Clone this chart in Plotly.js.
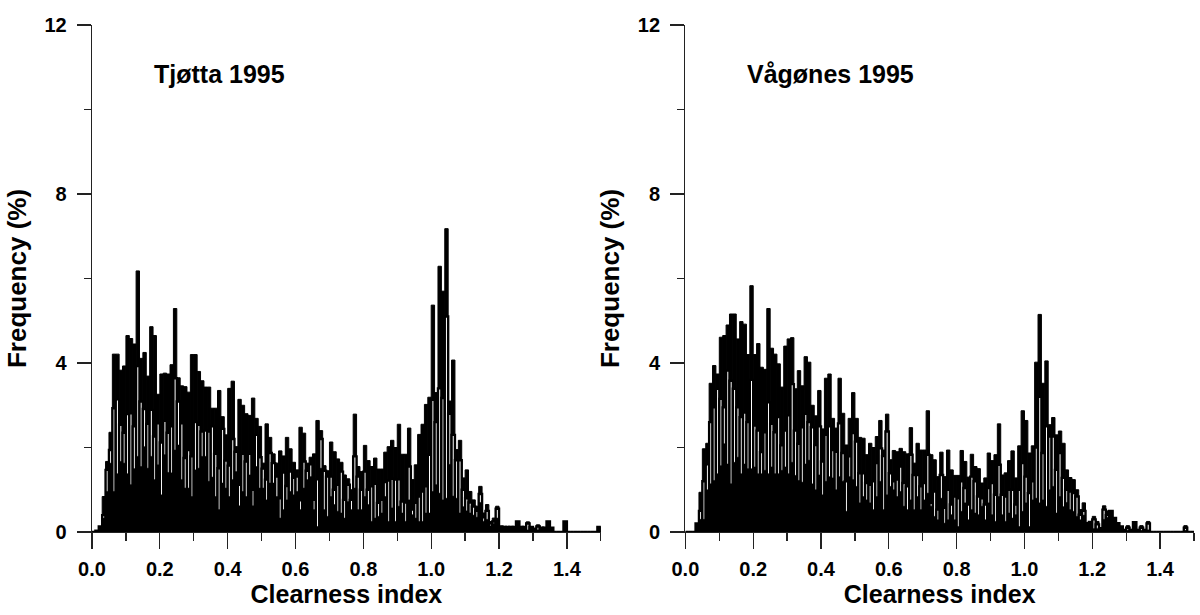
<!DOCTYPE html>
<html>
<head>
<meta charset="utf-8">
<script src="https://cdn.plot.ly/plotly-3.0.1.min.js"></script>
<style>
  html, body { margin: 0; padding: 0; background: #fff; }
  #chart { width: 1200px; height: 615px; }
</style>
</head>
<body>
<div id="chart"></div>
<script>
// Histogram of clearness index, bins of 0.01 from 0.00 to 1.50 (150 bins).
// "Total" = bar height, "Mid" = top of the white interior slit, "Low" = solid black base.
const binStart = 0.005;
const binWidth = 0.01;

const tjottaTotal = [
  0, 0.03, 0.13, 0.84, 1.67, 2.36, 4.21, 4.21, 3.83, 3.93,
  4.65, 4.58, 4.45, 6.18, 4.11, 4.25, 3.69, 4.86, 4.65, 3.26,
  3.74, 3.76, 3.74, 3.96, 5.29, 3.65, 3.46, 3.44, 3.31, 4.20,
  4.20, 3.80, 3.58, 3.43, 3.43, 2.93, 2.93, 3.35, 2.73, 2.30,
  3.40, 3.57, 2.02, 3.14, 3.00, 2.80, 2.76, 3.17, 2.69, 2.50,
  1.63, 2.56, 2.24, 1.85, 1.63, 1.92, 1.80, 2.24, 1.97, 1.65,
  1.47, 2.48, 2.34, 1.63, 1.77, 1.85, 2.64, 2.40, 1.57, 1.45,
  2.13, 1.90, 1.73, 1.65, 1.35, 1.26, 1.00, 2.79, 1.55, 1.43,
  2.05, 1.69, 1.55, 1.75, 1.49, 1.49, 1.89, 2.02, 2.17, 2.00,
  2.55, 1.84, 1.84, 2.46, 1.24, 1.59, 2.31, 2.55, 3.02, 3.19,
  5.37, 3.30, 6.29, 5.70, 7.18, 3.10, 4.07, 1.95, 2.17, 1.28,
  1.47, 0.96, 0.76, 0.61, 1.08, 0.45, 0.65, 0.25, 0.33, 0.61,
  0.13, 0.12, 0.12, 0.12, 0.12, 0.25, 0.12, 0.12, 0.24, 0.12,
  0.08, 0.17, 0.10, 0.10, 0.25, 0.10, 0, 0, 0, 0.25,
  0, 0, 0, 0, 0, 0, 0, 0, 0, 0.12
];
const tjottaMid = [
  0, 0.03, 0.13, 0.40, 1.47, 1.94, 2.93, 3.14, 2.54, 2.35,
  2.79, 2.81, 2.50, 3.93, 3.09, 2.91, 2.56, 2.89, 2.26, 2.57,
  2.12, 2.63, 2.35, 2.50, 3.64, 3.09, 2.57, 1.75, 1.94, 1.79,
  2.60, 2.54, 2.38, 2.40, 2.38, 2.50, 1.85, 1.51, 2.44, 1.69,
  1.57, 2.20, 1.90, 1.12, 1.85, 1.67, 1.85, 1.00, 2.30, 1.77,
  1.50, 1.24, 1.87, 1.63, 1.31, 0.80, 1.41, 1.09, 1.43, 1.28,
  1.31, 0.75, 1.67, 1.45, 1.60, 0.76, 1.25, 2.20, 1.45, 1.31,
  1.31, 1.00, 1.12, 1.43, 0.76, 1.12, 0.76, 1.79, 1.31, 1.00,
  1.43, 1.00, 1.08, 1.14, 0.69, 0.76, 1.18, 1.22, 1.26, 1.24,
  1.25, 0.72, 0.70, 1.55, 0.53, 0.69, 0.84, 0.96, 1.08, 1.83,
  3.13, 2.60, 3.40, 3.17, 5.10, 2.80, 2.30, 1.70, 1.70, 1.00,
  0.80, 0.70, 0.60, 0.50, 0.90, 0.35, 0.50, 0.20, 0.25, 0.55,
  0.13, 0.12, 0.12, 0.12, 0.12, 0.25, 0.12, 0.12, 0.20, 0.12,
  0.08, 0.13, 0.10, 0.10, 0.25, 0.10, 0, 0, 0, 0.25,
  0, 0, 0, 0, 0, 0, 0, 0, 0, 0.12
];
const tjottaLow = [
  0, 0.03, 0.13, 0.33, 0.96, 1.63, 0.96, 1.38, 1.67, 1.63,
  1.38, 1.12, 1.50, 1.79, 1.55, 2.02, 1.51, 1.79, 1.24, 1.59,
  0.88, 1.83, 1.41, 1.40, 1.94, 2.06, 1.24, 1.04, 1.04, 0.84,
  1.47, 1.51, 1.79, 1.79, 1.20, 1.30, 0.84, 0.53, 1.16, 1.04,
  0.84, 1.24, 1.43, 0.62, 0.96, 0.84, 1.35, 0.62, 1.55, 1.04,
  1.04, 0.76, 1.16, 1.16, 0.84, 0.33, 0.53, 0.76, 0.96, 0.88,
  0.96, 0.53, 1.04, 1.24, 1.31, 0.53, 0.13, 1.51, 0.53, 0.37,
  0.84, 0.65, 0.49, 0.45, 0.33, 0.72, 0.53, 1.04, 0.53, 0.53,
  0.84, 0.65, 0.25, 0.33, 0.37, 0.45, 0.84, 0.25, 0.57, 0.25,
  0.61, 0.45, 0.25, 0.76, 0.41, 0.33, 0.25, 0.25, 0.45, 0.45,
  0.96, 1.12, 0.92, 0.76, 0.80, 1.60, 0.85, 0.80, 0.45, 0.60,
  0.50, 0.45, 0.40, 0.35, 0.70, 0.25, 0.30, 0.15, 0.20, 0.33,
  0.13, 0.12, 0.12, 0.12, 0.12, 0.25, 0.12, 0.12, 0.05, 0.12,
  0.08, 0.05, 0.10, 0.10, 0.25, 0.10, 0, 0, 0, 0.25,
  0, 0, 0, 0, 0, 0, 0, 0, 0, 0.12
];

const vagonesTotal = [
  0, 0, 0, 0.20, 0.94, 1.97, 2.10, 3.52, 3.94, 3.74,
  4.61, 4.65, 4.90, 5.16, 5.16, 4.57, 4.98, 4.92, 4.20, 5.83,
  4.20, 4.46, 3.90, 3.85, 5.29, 4.35, 4.21, 3.98, 3.43, 4.40,
  4.57, 4.60, 3.39, 3.82, 3.46, 4.15, 4.02, 3.00, 2.75, 3.35,
  2.44, 3.64, 3.74, 2.69, 2.46, 3.64, 2.81, 2.06, 2.69, 3.30,
  2.69, 2.24, 2.22, 1.83, 2.10, 2.00, 2.26, 2.64, 1.94, 2.79,
  1.71, 1.93, 1.90, 1.98, 1.90, 1.85, 2.47, 1.63, 2.10, 1.94,
  1.94, 2.87, 1.83, 1.71, 1.31, 1.89, 1.31, 1.94, 1.47, 1.34,
  1.34, 1.93, 1.67, 1.30, 1.84, 1.55, 1.50, 1.16, 1.28, 1.87,
  1.69, 1.83, 2.56, 1.35, 1.40, 1.69, 1.92, 1.28, 2.04, 2.87,
  2.64, 1.87, 2.04, 4.02, 5.15, 3.52, 4.05, 2.54, 2.71, 2.30,
  2.39, 2.10, 1.47, 1.29, 1.24, 1.00, 0.53, 0.69, 0.21, 0.24,
  0.37, 0.25, 0.09, 0.62, 0.50, 0.50, 0.33, 0.21, 0.13, 0.05,
  0.15, 0.05, 0.23, 0.05, 0.15, 0.05, 0.25, 0, 0, 0,
  0, 0, 0, 0, 0, 0, 0, 0.15, 0, 0
];
const vagonesMid = [
  0, 0, 0, 0.20, 0.50, 1.20, 1.60, 2.60, 2.95, 3.39,
  3.15, 2.95, 3.82, 3.58, 3.39, 2.95, 2.72, 2.83, 2.60, 3.60,
  2.52, 2.40, 1.89, 2.36, 3.07, 2.56, 2.36, 2.72, 2.05, 2.40,
  2.76, 3.50, 2.40, 2.09, 2.48, 2.80, 2.60, 2.48, 2.06, 2.50,
  1.67, 2.30, 2.50, 1.94, 1.90, 2.57, 1.87, 1.20, 1.79, 2.34,
  2.14, 1.39, 1.39, 1.16, 1.12, 1.20, 1.63, 1.98, 1.80, 2.38,
  1.39, 1.20, 1.24, 1.55, 1.16, 1.08, 1.83, 1.35, 1.35, 1.08,
  1.16, 1.83, 0.69, 0.96, 0.53, 1.35, 0.57, 1.00, 0.65, 0.84,
  0.80, 1.20, 1.04, 0.65, 1.31, 1.20, 0.84, 0.80, 0.65, 1.04,
  1.16, 0.88, 1.59, 0.88, 0.84, 1.00, 1.00, 0.65, 1.00, 1.63,
  1.31, 0.92, 1.20, 2.00, 3.20, 1.87, 2.50, 2.26, 2.26, 1.47,
  1.87, 1.28, 1.00, 0.96, 0.92, 0.84, 0.41, 0.50, 0.21, 0.24,
  0.30, 0.18, 0.09, 0.53, 0.40, 0.50, 0.33, 0.21, 0.13, 0.05,
  0.10, 0.05, 0.23, 0.05, 0.10, 0.05, 0.20, 0, 0, 0,
  0, 0, 0, 0, 0, 0, 0, 0.10, 0, 0
];
const vagonesLow = [
  0, 0, 0, 0.20, 0.30, 0.30, 1.00, 1.14, 1.22, 1.38,
  1.57, 2.09, 1.61, 1.14, 1.65, 1.77, 1.38, 1.61, 1.50, 1.50,
  1.54, 1.38, 1.38, 1.46, 1.38, 1.54, 1.38, 1.38, 1.46, 1.54,
  1.38, 1.65, 1.34, 1.22, 1.18, 1.61, 1.70, 1.14, 1.00, 1.35,
  0.88, 1.20, 1.31, 1.28, 1.00, 1.31, 1.20, 0.49, 1.31, 1.24,
  1.08, 0.69, 0.84, 0.76, 0.69, 0.53, 0.84, 1.20, 0.53, 0.88,
  1.08, 1.00, 0.84, 0.96, 0.61, 0.53, 0.76, 0.53, 0.84, 0.53,
  0.76, 0.92, 0.61, 0.37, 0.29, 0.80, 0.21, 0.29, 0.41, 0.29,
  0.13, 0.49, 0.69, 0.29, 0.53, 0.45, 0.41, 0.61, 0.29, 0.69,
  0.41, 0.25, 0.84, 0.41, 0.25, 0.45, 0.33, 0.41, 0.13, 0.49,
  0.69, 0.13, 0.76, 0.80, 0.69, 0.76, 0.61, 1.00, 1.08, 0.45,
  0.84, 0.60, 0.70, 0.53, 0.49, 0.37, 0.29, 0.40, 0.21, 0.24,
  0.08, 0.08, 0.09, 0.30, 0.35, 0.50, 0.33, 0.21, 0.13, 0.05,
  0.04, 0.05, 0.23, 0.05, 0.04, 0.05, 0.05, 0, 0, 0,
  0, 0, 0, 0, 0, 0, 0, 0.04, 0, 0
];

const panelTitles = ['Tjøtta 1995', 'Vågønes 1995'];
const xTitle = 'Clearness index';
const yTitle = 'Frequency (%)';

const FONT = '"Liberation Sans", Arial, Helvetica, sans-serif';
const INK = '#000';
const AXC = '#222';

function layers(total, mid, low, xa, ya) {
  const base = { type: 'bar', x0: binStart, dx: binWidth, width: binWidth,
                 xaxis: xa, yaxis: ya, hoverinfo: 'skip', showlegend: false };
  return [
    Object.assign({}, base, { y: total, marker: { color: INK, line: { color: INK, width: 1 } } }),
    Object.assign({}, base, { y: mid,   marker: { color: '#fff', line: { color: INK, width: 2.4 } } }),
    Object.assign({}, base, { y: low,   marker: { color: INK, line: { color: INK, width: 0.5 } } })
  ];
}

const data = [].concat(
  layers(tjottaTotal, tjottaMid, tjottaLow, 'x', 'y'),
  layers(vagonesTotal, vagonesMid, vagonesLow, 'x2', 'y2')
);

const L = 92, R = 6, T = 25, B = 83;
const W = 1200 - L - R;
function px(p) { return (p - L) / W; }

function xAxis(domain, anchor) {
  return {
    domain: domain, anchor: anchor, range: [0, 1.5], fixedrange: true,
    showline: true, linecolor: AXC, linewidth: 1.3,
    showgrid: false, zeroline: false,
    ticks: 'outside', ticklen: 16, tickwidth: 1.3, tickcolor: AXC,
    tick0: 0, dtick: 0.2, tickformat: '.1f',
    minor: { ticks: 'outside', dtick: 0.1, ticklen: 8, tickwidth: 1.3, tickcolor: AXC },
    ticklabelstandoff: 3,
    tickfont: { family: FONT, size: 20, color: INK, weight: 'bold' },
    title: { text: xTitle, standoff: 2, font: { family: FONT, size: 25, color: INK, weight: 'bold' } }
  };
}
function yAxis(anchor) {
  return {
    domain: [0, 1], anchor: anchor, range: [0, 12], fixedrange: true,
    showline: true, linecolor: AXC, linewidth: 1.3,
    showgrid: false, zeroline: false,
    ticks: 'outside', ticklen: 14, tickwidth: 1.3, tickcolor: AXC,
    tick0: 0, dtick: 4,
    minor: { ticks: 'outside', dtick: 2, ticklen: 7, tickwidth: 1.3, tickcolor: AXC },
    ticklabelstandoff: 6,
    tickfont: { family: FONT, size: 20, color: INK, weight: 'bold' },
    title: { text: yTitle, standoff: 10, font: { family: FONT, size: 26, color: INK, weight: 'bold' } }
  };
}

const layout = {
  width: 1200, height: 615,
  margin: { l: L, r: R, t: T, b: B, pad: 0 },
  paper_bgcolor: '#fff', plot_bgcolor: '#fff',
  font: { family: FONT, color: INK, weight: 'bold' },
  barmode: 'overlay', bargap: 0,
  xaxis: xAxis([0, px(600.8)], 'y'),
  yaxis: yAxis('x'),
  xaxis2: xAxis([px(685.4), 1], 'y2'),
  yaxis2: yAxis('x2'),
  annotations: [
    { xref: 'x', yref: 'y', x: 0.176, y: 10.83, xanchor: 'left', yanchor: 'middle',
      text: panelTitles[0], showarrow: false,
      font: { family: FONT, size: 25, color: INK, weight: 'bold' } },
    { xref: 'x2', yref: 'y2', x: 0.176, y: 10.83, xanchor: 'left', yanchor: 'middle',
      text: panelTitles[1], showarrow: false,
      font: { family: FONT, size: 25, color: INK, weight: 'bold' } }
  ]
};

Plotly.newPlot('chart', data, layout, { staticPlot: true, displayModeBar: false });
</script>
</body>
</html>
